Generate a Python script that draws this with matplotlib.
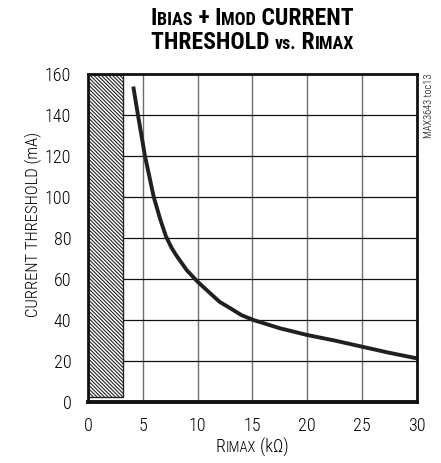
import matplotlib.pyplot as plt
from matplotlib.offsetbox import TextArea, HPacker, AnchoredOffsetbox
from matplotlib.patches import Rectangle

FONT = ['Roboto Condensed', 'Archivo Narrow', 'PT Sans Narrow', 'DejaVu Sans']
plt.rcParams['font.family'] = FONT
plt.rcParams['font.weight'] = 'light'
plt.rcParams['hatch.linewidth'] = 0.8

# threshold current vs. RIMAX
r_imax = [4.13, 4.56, 5.2, 6.0, 6.6, 7.1, 7.6, 8.0, 9.0, 10, 11, 12, 13, 14, 15.1,
          17.5, 20, 22.5, 25, 27.5, 30]
i_thresh = [154, 140, 120, 100, 89, 81, 75.5, 72, 64.4, 58.7, 53.8, 48.9, 45.7, 42.4, 40,
            36, 32.7, 30, 27, 24, 21.3]

# keep-out region (hatched)
keepout_x = [0, 3.2]
keepout_y = [2.5, 160]

xticks = [0, 5, 10, 15, 20, 25, 30]
yticks = [0, 20, 40, 60, 80, 100, 120, 140, 160]

fig = plt.figure(figsize=(4.41, 4.63), dpi=100)
ax = fig.add_axes([0.1995, 0.1317, 0.746, 0.708])

ax.set_xlim(0, 30)
ax.set_ylim(0, 160)
ax.set_xticks(xticks)
ax.set_yticks(yticks)
ax.tick_params(length=0, labelsize=13)
ax.tick_params(axis='y', pad=12)
ax.tick_params(axis='x', pad=11)

for x in xticks[1:-1]:
    ax.axvline(x, color='#6e6e6e', lw=1.0, zorder=1)
for y in yticks[1:-1]:
    ax.axhline(y, color='#111111', lw=0.9, zorder=1)

ax.add_patch(Rectangle((keepout_x[0], keepout_y[0]),
                       keepout_x[1] - keepout_x[0], keepout_y[1] - keepout_y[0],
                       facecolor='white', edgecolor='#222222', hatch='\\' * 9,
                       lw=1.0, zorder=2))

ax.plot(r_imax, i_thresh, color='#231f20', lw=2.8, zorder=3,
        solid_capstyle='butt', solid_joinstyle='round')

for s in ['top', 'right', 'left']:
    ax.spines[s].set_linewidth(2.0)
ax.spines['bottom'].set_linewidth(2.8)
for s in ax.spines.values():
    s.set_zorder(4)
    s.set_color('#111111')


def mixed(parts, weight='light'):
    boxes = [TextArea(t, textprops=dict(size=sz, weight=weight, family=FONT))
             for t, sz in parts]
    return HPacker(children=boxes, pad=0, sep=0, align='baseline')


def place(box, x, y):
    fig.add_artist(AnchoredOffsetbox(loc='upper center', child=box, pad=0,
                                     frameon=False, bbox_to_anchor=(x, y),
                                     bbox_transform=fig.transFigure, borderpad=0))


title1 = mixed([('I', 17), ('BIAS', 13), (' + I', 17), ('MOD', 13), (' CURRENT', 17)], 'heavy')
title2 = mixed([('THRESHOLD ', 17), ('vs.', 13), (' R', 17), ('IMAX', 13)], 'heavy')
place(title1, 0.572, 0.985)
place(title2, 0.572, 0.932)

xl = mixed([('R', 13), ('IMAX', 10.5), (' (k\u03a9)', 13)])
place(xl, 0.572, 0.055)

fig.text(0.075, 0.515, 'CURRENT THRESHOLD (mA)', rotation=90, fontsize=12,
         ha='center', va='center')
fig.text(0.972, 0.842, 'MAX3643 toc13', rotation=90, fontsize=7.5,
         ha='center', va='top')

fig.savefig('out.png', dpi=100)
